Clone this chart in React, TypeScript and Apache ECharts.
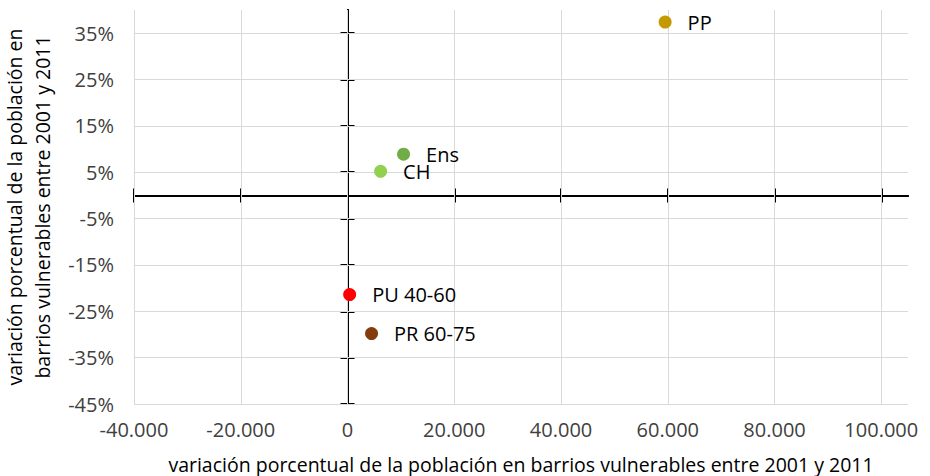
import React, { useEffect, useRef } from 'react';
import * as echarts from 'echarts';

const categories = ['PP', 'Ens', 'CH', 'PU 40-60', 'PR 60-75'];
const xValues = [59500, 10500, 6200, 400, 4500];
const yValues = [37.4, 8.9, 5.2, -21.4, -29.8];
const pointColors = ['#c59a00', '#70ad47', '#92d050', '#ff0000', '#843c0c'];
const xTicks = [-40000, -20000, 0, 20000, 40000, 60000, 80000, 100000];
const yTicks = [-45, -35, -25, -15, -5, 5, 15, 25, 35];
const xRange = [-40000, 105000];
const yRange = [-45, 40];
const xTitle = 'variación porcentual de la población en barrios vulnerables entre 2001 y 2011';
const yTitle = 'variación porcentual de la población en\nbarrios vulnerables entre 2001 y 2011';

const FONT = '"Open Sans", sans-serif';

function fmtThousands(v: number): string {
  const neg = v < 0;
  const s = String(Math.abs(Math.round(v)));
  const out = s.replace(/\B(?=(\d{3})+(?!\d))/g, '.');
  return (neg ? '-' : '') + out;
}

export default function App() {
  const ref = useRef<HTMLDivElement>(null);
  useEffect(() => {
    if (!ref.current) return;
    const chart = echarts.init(ref.current, undefined, { renderer: 'svg' });
    const grid = { left: 134, right: 22, top: 10, bottom: 72, containLabel: false, outerBoundsMode: 'none' };
    const black = '#000000';
    const lineAxisX = (pos: string) => ({
      type: 'value',
      position: pos,
      min: xRange[0],
      max: xRange[1],
      z: 3,
      axisLine: { show: true, onZero: true, lineStyle: { color: black, width: 2 } },
      axisTick: { show: true, customValues: xTicks, length: 7, lineStyle: { color: black, width: 2 } },
      axisLabel: { show: false },
      splitLine: { show: false },
    });
    const lineAxisY = (pos: string) => ({
      type: 'value',
      position: pos,
      min: yRange[0],
      max: yRange[1],
      z: 3,
      axisLine: { show: true, onZero: true, lineStyle: { color: black, width: 2 } },
      axisTick: { show: true, customValues: yTicks, length: 7, lineStyle: { color: black, width: 2 } },
      axisLabel: { show: false },
      splitLine: { show: false },
    });
    chart.setOption({
      animation: false,
      backgroundColor: '#ffffff',
      grid,
      xAxis: [
        {
          type: 'value',
          position: 'bottom',
          min: xRange[0],
          max: xRange[1],
          axisLine: { show: false, onZero: false },
          axisTick: { show: false },
          splitLine: { show: false },
          axisLabel: {
            customValues: xTicks,
            formatter: (v: number) => fmtThousands(v),
            margin: 15,
            color: '#404040',
            fontSize: 20,
            fontFamily: FONT,
          },
          name: xTitle,
          nameLocation: 'middle',
          nameGap: 50,
          nameTextStyle: { color: '#000', fontSize: 19.5, fontFamily: FONT },
        },
        lineAxisX('bottom'),
        lineAxisX('top'),
      ],
      yAxis: [
        {
          type: 'value',
          position: 'left',
          min: yRange[0],
          max: yRange[1],
          axisLine: { show: false, onZero: false },
          axisTick: { show: false },
          splitLine: { show: false },
          axisLabel: {
            customValues: yTicks,
            formatter: (v: number) => v + '%',
            margin: 20,
            color: '#404040',
            fontSize: 20,
            fontFamily: FONT,
          },
          name: yTitle,
          nameLocation: 'middle',
          nameGap: 78,
          nameTextStyle: { color: '#000', fontSize: 19.5, lineHeight: 28, fontFamily: FONT },
        },
        lineAxisY('left'),
        lineAxisY('right'),
      ],
      series: [
        {
          type: 'scatter',
          z: 1,
          xAxisIndex: 0,
          yAxisIndex: 0,
          data: [],
          silent: true,
          markLine: {
            silent: true,
            symbol: 'none',
            animation: false,
            label: { show: false },
            lineStyle: { color: '#d9d9d9', width: 1, type: 'solid' },
            data: [
              ...xTicks.map((v) => ({ xAxis: v })),
              ...yTicks.map((v) => ({ yAxis: v })),
            ],
          },
        },
        {
          type: 'scatter',
          z: 5,
          xAxisIndex: 0,
          yAxisIndex: 0,
          symbol: 'circle',
          symbolSize: 13,
          data: categories.map((c, i) => ({
            name: c,
            value: [xValues[i], yValues[i]],
            itemStyle: { color: pointColors[i], opacity: 1 },
          })),
          label: {
            show: true,
            position: 'right',
            distance: 16,
            formatter: '{b}',
            color: '#000',
            fontSize: 20,
            fontWeight: 500,
            fontFamily: FONT,
          },
        },
      ],
    });
    return () => chart.dispose();
  }, []);
  return <div ref={ref} style={{ width: 930, height: 476, position: 'absolute', left: 0, top: 0 }} />;
}
